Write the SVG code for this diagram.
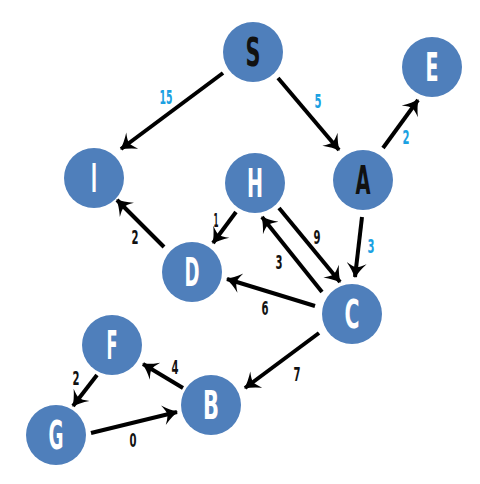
<svg xmlns="http://www.w3.org/2000/svg" width="480" height="484" viewBox="0 0 480 484">
<defs>
<marker id="ah" viewBox="-15 -10 17 20" markerWidth="17" markerHeight="20" refX="0" refY="0" orient="auto" markerUnits="userSpaceOnUse">
<path d="M1,0 Q-6,-3 -14,-10 Q-10,-3 -10,0 Q-10,3 -14,10 Q-6,3 1,0 Z" fill="#000"/>
</marker>
</defs>
<style>
.n{fill:#4F7FBB}
.t{font-family:"DejaVu Sans Condensed","DejaVu Sans",sans-serif;font-weight:bold;font-size:39px;text-anchor:middle;fill:#fff}
.k{fill:#111}
.e{stroke:#000;stroke-width:4;fill:none;marker-end:url(#ah)}
.w{font-family:"DejaVu Sans Condensed","DejaVu Sans",sans-serif;font-weight:bold;font-size:20px;text-anchor:middle;fill:#111}
.b{fill:#1BA1E2}
</style>
<rect width="480" height="484" fill="#fff"/>
<g id="connectors">
<line class="e" x1="223" y1="73" x2="121" y2="149"/>
<line class="e" x1="278" y1="78" x2="339" y2="150"/>
<line class="e" x1="383" y1="148" x2="418" y2="100"/>
<line class="e" x1="236" y1="212" x2="213" y2="243"/>
<line class="e" x1="164" y1="247" x2="117" y2="200"/>
<line class="e" x1="279" y1="208" x2="340" y2="282"/>
<line class="e" x1="322" y1="292" x2="262" y2="217"/>
<line class="e" x1="362" y1="217" x2="355" y2="277"/>
<line class="e" x1="315" y1="306" x2="227" y2="279"/>
<line class="e" x1="319" y1="333" x2="245" y2="388"/>
<line class="e" x1="183" y1="388" x2="143" y2="364"/>
<line class="e" x1="97" y1="375" x2="73" y2="406"/>
<line class="e" x1="91" y1="433" x2="177" y2="412"/>
</g>
<g id="weights">
<text class="w b" x="166" y="104" textLength="13" lengthAdjust="spacingAndGlyphs">15</text>
<text class="w b" x="318" y="108" textLength="7" lengthAdjust="spacingAndGlyphs">5</text>
<text class="w b" x="406" y="144" textLength="7" lengthAdjust="spacingAndGlyphs">2</text>
<text class="w" x="216" y="227" textLength="5" lengthAdjust="spacingAndGlyphs">1</text>
<text class="w" x="135" y="244" textLength="7" lengthAdjust="spacingAndGlyphs">2</text>
<text class="w" x="317" y="244" textLength="7" lengthAdjust="spacingAndGlyphs">9</text>
<text class="w" x="279" y="269" textLength="7" lengthAdjust="spacingAndGlyphs">3</text>
<text class="w b" x="371" y="253" textLength="7" lengthAdjust="spacingAndGlyphs">3</text>
<text class="w" x="265" y="315" textLength="7" lengthAdjust="spacingAndGlyphs">6</text>
<text class="w" x="297" y="381" textLength="7" lengthAdjust="spacingAndGlyphs">7</text>
<text class="w" x="175" y="374" textLength="7" lengthAdjust="spacingAndGlyphs">4</text>
<text class="w" x="76" y="385" textLength="7" lengthAdjust="spacingAndGlyphs">2</text>
<text class="w" x="133" y="447" textLength="7" lengthAdjust="spacingAndGlyphs">0</text>
</g>
<g id="S"><circle class="n" cx="253" cy="52" r="30"/><text class="t k" x="253" y="66" textLength="15" lengthAdjust="spacingAndGlyphs">S</text></g>
<g id="E"><circle class="n" cx="432" cy="67" r="30"/><text class="t" x="432" y="81" textLength="13" lengthAdjust="spacingAndGlyphs">E</text></g>
<g id="A"><circle class="n" cx="363" cy="180" r="30"/><text class="t k" x="363" y="194" textLength="15" lengthAdjust="spacingAndGlyphs">A</text></g>
<g id="H"><circle class="n" cx="255" cy="183" r="30"/><text class="t" x="255" y="197" textLength="16" lengthAdjust="spacingAndGlyphs">H</text></g>
<g id="I"><circle class="n" cx="94" cy="178" r="30"/><text class="t" x="94" y="192" textLength="6" lengthAdjust="spacingAndGlyphs">I</text></g>
<g id="D"><circle class="n" cx="192" cy="272" r="30"/><text class="t" x="192" y="286" textLength="15" lengthAdjust="spacingAndGlyphs">D</text></g>
<g id="C"><circle class="n" cx="352" cy="314" r="30"/><text class="t" x="352" y="328" textLength="15" lengthAdjust="spacingAndGlyphs">C</text></g>
<g id="F"><circle class="n" cx="112" cy="345" r="30"/><text class="t" x="112" y="359" textLength="11" lengthAdjust="spacingAndGlyphs">F</text></g>
<g id="B"><circle class="n" cx="211" cy="405" r="30"/><text class="t" x="211" y="419" textLength="16" lengthAdjust="spacingAndGlyphs">B</text></g>
<g id="G"><circle class="n" cx="56" cy="435" r="30"/><text class="t" x="56" y="449" textLength="15" lengthAdjust="spacingAndGlyphs">G</text></g>
</svg>
